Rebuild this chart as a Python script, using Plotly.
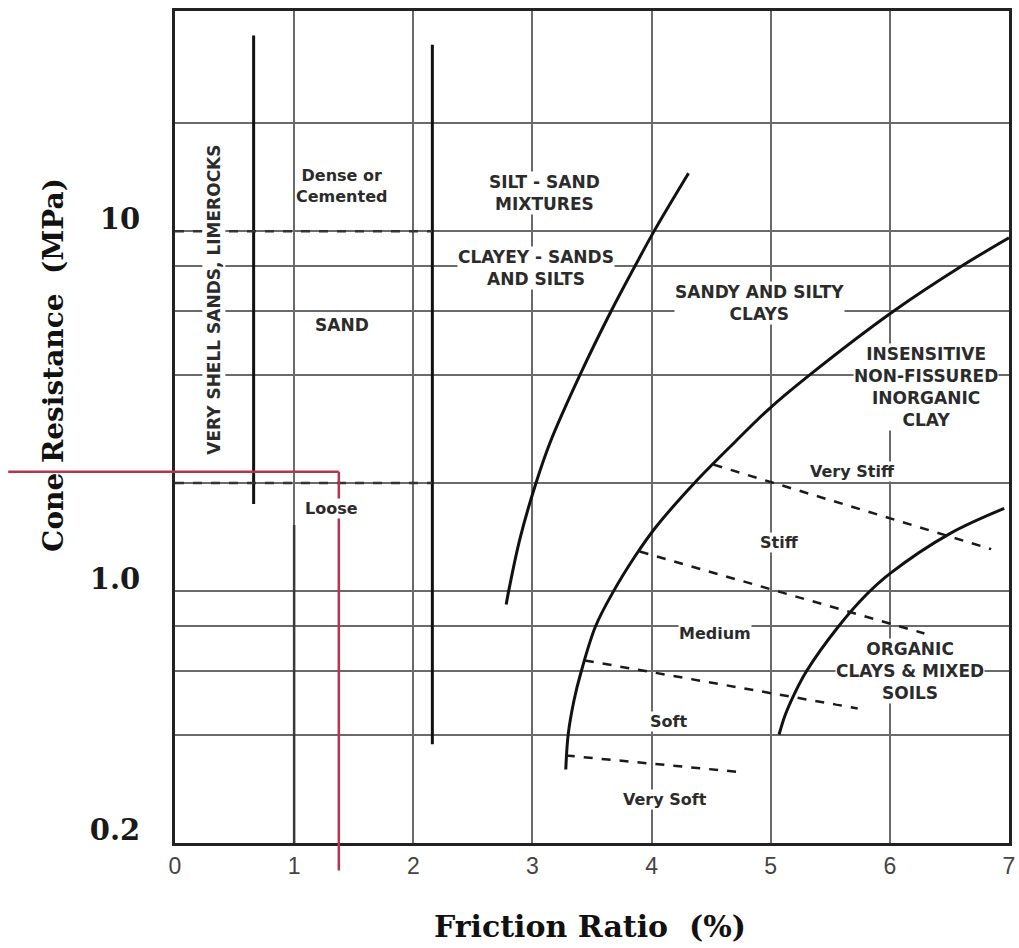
import numpy as np
import plotly.graph_objects as go

# ---------------- data ----------------
# boundary: sands / silt-sand mixtures
silt_sand_x = [2.78, 2.80, 2.895, 3.03, 3.15, 3.40, 3.66, 3.86, 4.02, 4.31]
silt_sand_q = [0.92, 1.00, 1.40, 2.00, 2.60, 4.00, 6.00, 8.00, 10.0, 14.5]

# boundary: sandy & silty clays / inorganic clay
clay_x = [3.28, 3.30, 3.35, 3.41, 3.53, 3.68, 3.86, 4.03, 4.36, 4.70, 4.98, 5.33, 6.03, 6.60, 7.00]
clay_q = [0.32, 0.40, 0.50, 0.60, 0.80, 1.00, 1.25, 1.50, 2.00, 2.60, 3.20, 4.00, 6.00, 8.00, 9.60]

# boundary: inorganic clay / organic clays & mixed soils
organic_x = [5.07, 5.12, 5.20, 5.30, 5.57, 5.80, 6.00, 6.50, 6.96]
organic_q = [0.40, 0.452, 0.52, 0.60, 0.80, 0.977, 1.12, 1.445, 1.70]

# consistency boundaries (dashed)
very_stiff_x, very_stiff_q = [4.52, 6.85], [2.25, 1.31]
stiff_medium_x, stiff_medium_q = [3.90, 6.29], [1.29, 0.764]
medium_soft_x, medium_soft_q = [3.44, 5.73], [0.643, 0.473]
very_soft_x, very_soft_q = [3.28, 4.78], [0.35, 0.314]

# vertical boundaries
shell_x, shell_q = [0.66, 0.66], [35.0, 1.75]
sand_x, sand_q = [2.16, 2.16], [33.0, 0.376]
loose_stem_x, loose_stem_q = [1.0, 1.0], [1.53, 0.2]

# dashed density boundaries in the sand zone
dense_x, dense_q = [0.0, 2.16], [10.0, 10.0]
loose_x, loose_q = [0.0, 2.16], [2.0, 2.0]

# red marker lines (reading of a point)
red_x = 1.375
red_q = 2.15

# grid / ticks
x_ticks = [0, 1, 2, 3, 4, 5, 6, 7]
y_grid = [0.2, 0.4, 0.6, 0.8, 1, 2, 4, 6, 8, 10, 20]
y_ticktext = ["0.2", "", "", "", "1.0", "", "", "", "", "10", ""]

# zone labels: text, x, q
zone_labels = [
    ("Dense or<br>Cemented", 1.40, 13.4),
    ("SAND", 1.40, 5.5),
    ("Loose", 1.31, 1.70),
    ("SILT - SAND<br>MIXTURES", 3.10, 12.8),
    ("CLAYEY - SANDS<br>AND SILTS", 3.03, 7.89),
    ("SANDY AND SILTY<br>CLAYS", 4.91, 6.31),
    ("INSENSITIVE<br>NON-FISSURED<br>INORGANIC<br>CLAY", 6.30, 3.69),
    ("Very Stiff", 5.69, 2.15),
    ("Stiff", 5.07, 1.37),
    ("Medium", 4.53, 0.764),
    ("Soft", 4.14, 0.436),
    ("Very Soft", 4.11, 0.264),
    ("ORGANIC<br>CLAYS & MIXED<br>SOILS", 6.17, 0.60),
]
rotated_label = ("VERY SHELL SANDS, LIMEROCKS", 0.33, 6.47)

# ---------------- figure ----------------
W, H = 1019, 948
ML, MR, MT, MB = 175, 4, 11, 105
plot_w = W - ML - MR
plot_h = H - MT - MB
x_range = [0, 7]
y_lo = np.log10(0.2)
y_range = [y_lo, y_lo + plot_h / 360.0]

fig = go.Figure()

solid = dict(color="#111111", width=3)
dashed = dict(color="#1a1a1a", width=2.5, dash="dash")

def add_line(x, q, line, shape="linear"):
    fig.add_trace(go.Scatter(x=x, y=q, mode="lines", line=dict(**line, shape=shape),
                             hoverinfo="skip", showlegend=False))

add_line(loose_stem_x, loose_stem_q, dict(color="#3a3a3a", width=2.5))
add_line(silt_sand_x, silt_sand_q, solid, "spline")
add_line(clay_x, clay_q, solid, "spline")
add_line(organic_x, organic_q, solid, "spline")
add_line(very_stiff_x, very_stiff_q, dashed)
add_line(stiff_medium_x, stiff_medium_q, dashed)
add_line(medium_soft_x, medium_soft_q, dashed)
add_line(very_soft_x, very_soft_q, dashed)
add_line(shell_x, shell_q, solid)
add_line(sand_x, sand_q, solid)
add_line(dense_x, dense_q, dict(color="#333333", width=2.5, dash="dash"))
add_line(loose_x, loose_q, dict(color="#333333", width=2.5, dash="dash"))

# red reading lines
red_col = "#b5354f"
red_px = (red_x - x_range[0]) / (x_range[1] - x_range[0])
red_py = (np.log10(red_q) - y_range[0]) / (y_range[1] - y_range[0])
fig.add_shape(type="line", xref="paper", yref="paper", x0=-0.2, x1=red_px, y0=red_py, y1=red_py,
              line=dict(color=red_col, width=2.5), layer="above")
fig.add_shape(type="line", xref="paper", yref="paper", x0=red_px, x1=red_px, y0=red_py, y1=-0.033,
              line=dict(color=red_col, width=2.5), layer="above")

label_font_caps = dict(family="DejaVu Sans", size=17, color="#2b2b2b", weight="bold")
label_font_mixed = dict(family="DejaVu Sans", size=16, color="#2b2b2b", weight="bold")
for text, x, q in zone_labels:
    caps = text.replace("<br>", "").upper() == text.replace("<br>", "")
    fig.add_annotation(x=x, y=np.log10(q), xref="x", yref="y", text=text, showarrow=False,
                       font=label_font_caps if caps else label_font_mixed,
                       bgcolor="white", borderpad=0, align="center")
text, x, q = rotated_label
fig.add_annotation(x=x, y=np.log10(q), xref="x", yref="y", text=text, showarrow=False,
                   textangle=-90, font=label_font_caps, bgcolor="white", borderpad=1)

# axis titles
fig.add_annotation(x=(52 - ML) / plot_w, y=(H - MB - 365) / plot_h, xref="paper", yref="paper",
                   xanchor="center", yanchor="middle",
                   text="Cone Resistance\u00a0 (MPa)", textangle=-90, showarrow=False,
                   font=dict(family="DejaVu Serif", size=28, color="#111111", weight="bold"))
fig.add_annotation(x=(593 - ML) / plot_w, y=(H - MB - 926) / plot_h, xref="paper", yref="paper",
                   xanchor="center", yanchor="middle",
                   text="Friction Ratio\u00a0 (%)", showarrow=False,
                   font=dict(family="DejaVu Serif", size=30, color="#111111", weight="bold"))

fig.update_layout(
    width=W, height=H,
    margin=dict(l=ML, r=MR, t=MT, b=MB, pad=0),
    paper_bgcolor="white", plot_bgcolor="white",
    showlegend=False,
    xaxis=dict(range=x_range, tickvals=x_ticks, ticktext=[str(v) for v in x_ticks],
               showgrid=True, gridcolor="#6a6a6a", gridwidth=2, zeroline=False,
               showline=True, mirror=True, linecolor="#222222", linewidth=3, ticks="",
               tickfont=dict(family="Liberation Sans", size=23, color="#444444")),
    yaxis=dict(type="log", range=y_range, tickvals=y_grid, ticktext=y_ticktext,
               showgrid=True, gridcolor="#6a6a6a", gridwidth=2, zeroline=False,
               showline=True, mirror=True, linecolor="#222222", linewidth=3, ticks="",
               ticklabelshift=-13, ticklabelstandoff=26,
               tickfont=dict(family="DejaVu Serif", size=29, color="#1a1a1a", weight="bold")),
)

fig.write_html("out.html")
